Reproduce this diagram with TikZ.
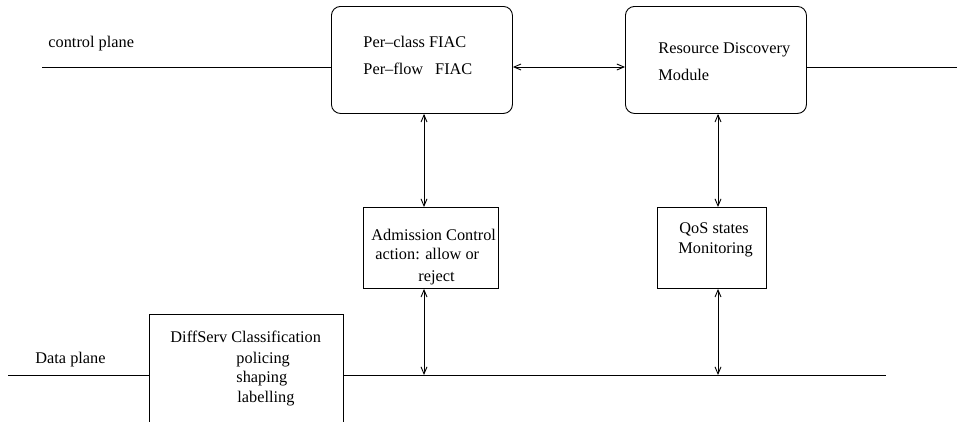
\documentclass[tikz,border=0pt]{standalone}
\usepackage{fontspec}
\setmainfont{Liberation Serif}
\usetikzlibrary{arrows.meta}
\begin{document}
\begin{tikzpicture}[x=1pt,y=-1pt,line width=0.9pt,
  box/.style={draw, rectangle, inner sep=0pt, anchor=north west},
  rbox/.style={box, rounded corners=9pt},
  lbl/.style={anchor=base west, inner sep=0pt, font=\fontsize{16.3}{19}\selectfont},
  biarrow/.style={{Straight Barb[length=7pt,width=6pt]}-{Straight Barb[length=7pt,width=6pt]}}]
\useasboundingbox (0,0) rectangle (957,421);
\clip (0,0) rectangle (957,421);

% control plane boxes
\node[rbox, minimum width=181pt, minimum height=107pt] (fiac) at (331,6) {};
\node[rbox, minimum width=181pt, minimum height=107pt] (rdm) at (625,6) {};
% monitoring / admission boxes
\node[box, minimum width=135pt, minimum height=81pt] (adm) at (363,207) {};
\node[box, minimum width=109pt, minimum height=81pt] (qos) at (657,207) {};
% data plane classifier (runs off the bottom edge)
\node[box, minimum width=194pt, minimum height=130pt] (diff) at (149,314) {};

% reference points for the plane lines and vertical links
\coordinate (cl) at (42,67);
\coordinate (cr) at (957,67);
\coordinate (dl) at (8,375);
\coordinate (dr) at (886,375);
\coordinate (ax) at (424,0);
\coordinate (qx) at (718,0);

% control plane
\draw (cl) -- (fiac.west |- cl);
\draw[biarrow] (fiac.east |- cl) -- (rdm.west |- cl);
\draw (rdm.east |- cl) -- (cr);

% data plane
\draw (dl) -- (diff.west |- dl);
\draw (diff.east |- dl) -- (dr);

% vertical links
\draw[biarrow] (fiac.south -| ax) -- (adm.north -| ax);
\draw[biarrow] (adm.south -| ax) -- (dl -| ax);
\draw[biarrow] (rdm.south -| qx) -- (qos.north -| qx);
\draw[biarrow] (qos.south -| qx) -- (dl -| qx);

% labels
\node[lbl] (tcp) at (48,47) {control plane};
\node[lbl] (tdp) at (35,363) {Data plane};
\node[lbl] (f1) at (363,47) {Per--class FIAC};
\node[lbl] (f2) at (363,74) {Per--flow\hspace{12pt}FIAC};
\node[lbl] (r1) at (658,53) {Resource Discovery};
\node[lbl] (r2) at (658,80) {Module};
\node[lbl] (a1) at (371,240) {Admission Control};
\node[lbl] (a2) at (375,259) {action: allow or};
\node[lbl] (a3) at (418,281) {reject};
\node[lbl] (q1) at (679,233) {QoS states};
\node[lbl] (q2) at (678,253) {Monitoring};
\node[lbl] (d1) at (170,342) {DiffServ Classification};
\node[lbl] (d2) at (236,363) {policing};
\node[lbl] (d3) at (236,382) {shaping};
\node[lbl] (d4) at (237,402) {labelling};
\end{tikzpicture}
\end{document}
